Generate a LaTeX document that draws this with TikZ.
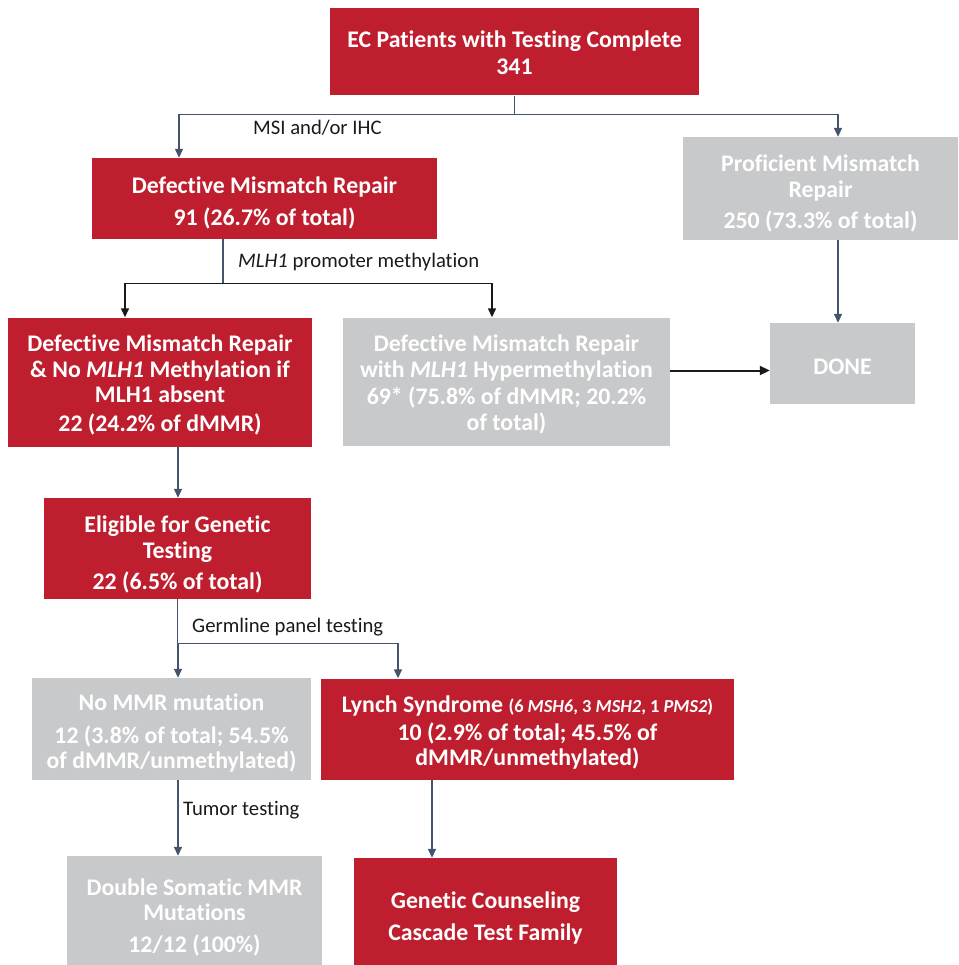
\documentclass[tikz,border=0pt]{standalone}
\usepackage{fontspec}
\setmainfont{Carlito}[Ligatures=NoCommon]
\usetikzlibrary{arrows.meta,calc}
\definecolor{dred}{HTML}{BE1E2D}
\definecolor{lgray}{HTML}{C8C9CB}
\definecolor{slate}{HTML}{44546A}
\definecolor{blk}{HTML}{1A1A1A}
\tikzset{
  box/.style={rectangle, inner sep=0pt},
  redbox/.style={box, fill=dred},
  graybox/.style={box, fill=lgray},
  boxtext/.style={inner sep=0pt, align=center, text=white,
    font=\bfseries\fontsize{23.8}{25.5}\selectfont},
  arr/.style={draw=slate, line width=1.4pt, -{Triangle[width=8pt,length=9pt]}},
  ln/.style={draw=slate, line width=1.4pt},
  arrk/.style={draw=blk, line width=1.4pt, -{Triangle[width=8pt,length=9pt]}},
  arrkk/.style={draw=blk, line width=2pt, -{Triangle[width=9pt,length=10pt]}},
  lab/.style={anchor=west, inner sep=0pt, text=blk, font=\fontsize{20.7}{24}\selectfont}
}
% #1 style, #2 width, #3 height, #4 name, #5 centre, #6 text drop, #7 text
\newcommand\flowbox[7]{%
  \node[#1, minimum width=#2pt, minimum height=#3pt] (#4) at (#5) {};
  \node[boxtext] (#4-t) at ([yshift=-#6pt]#4.center) {#7};}
\begin{document}
\begin{tikzpicture}[x=1pt,y=-1pt]
\useasboundingbox (0,0) rectangle (958,965);
% boxes
\flowbox{redbox}{369}{87}{top}{514.5,52}{0.5}
  {EC Patients with Testing Complete\\[1pt]341}
\flowbox{redbox}{345}{81}{dmmr}{264.5,198.5}{4.5}
  {Defective Mismatch Repair\\[6pt]91 (26.7\% of total)}
\flowbox{graybox}{275}{103}{prof}{820.5,188.5}{5}
  {Proficient Mismatch\\Repair\\[6pt]250 (73.3\% of total)}
\flowbox{redbox}{304}{129}{nomlh}{160,382}{3}
  {Defective Mismatch Repair\\\& No \textit{MLH1} Methylation if\\MLH1 absent\\[3pt]22 (24.2\% of dMMR)}
\flowbox{graybox}{327}{128}{hyper}{506.5,381.5}{3}
  {Defective Mismatch Repair\\with \textit{MLH1} Hypermethylation\\[2pt]69* (75.8\% of dMMR; 20.2\%\\of total)}
\flowbox{graybox}{145}{81}{done}{842.5,363.5}{3.5}{DONE}
\flowbox{redbox}{267}{101}{elig}{177.5,548.5}{6}
  {Eligible for Genetic\\Testing\\[6pt]22 (6.5\% of total)}
\flowbox{graybox}{279}{102}{nommr}{171.5,729}{4.5}
  {No MMR mutation\\[7pt]12 (3.8\% of total; 54.5\%\\of dMMR/unmethylated)}
\flowbox{redbox}{413}{101}{lynch}{527.5,729}{4}
  {Lynch Syndrome {\fontsize{18.4}{20}\selectfont(6 \textit{MSH6}, 3 \textit{MSH2}, 1 \textit{PMS2})}\\[2pt]10 (2.9\% of total; 45.5\% of\\dMMR/unmethylated)}
\flowbox{graybox}{255}{116}{dsom}{194.5,914}{3}
  {Double Somatic MMR\\Mutations\\[6pt]12/12 (100\%)}
\flowbox{redbox}{263}{116}{gc}{485.5,916}{2}
  {Genetic Counseling\\[6pt]Cascade Test Family}
% connectors
\draw[ln] (top.south) -- ++(0,19) coordinate (j1);
\draw[arr] (j1) -| ([xshift=-85.5pt]dmmr.north);
\draw[arr] (j1) -| ([xshift=17.5pt]prof.north);
\draw[ln] ([xshift=-41.5pt]dmmr.south) -- ++(0,44) coordinate (j2);
\draw[arrk] (j2) -| ([xshift=-35pt]nomlh.north);
\draw[arrk] (j2) -| ([xshift=-14.5pt]hyper.north);
\draw[arr] ([xshift=17.5pt]prof.south) -- ([xshift=17.5pt]prof.south |- done.north);
\draw[arrkk] ([yshift=11pt]hyper.east) -- ([yshift=11pt]hyper.east -| done.west);
\draw[arr] ([xshift=18pt]nomlh.south) -- ([xshift=18pt]nomlh.south |- elig.north);
\draw[ln] (elig.south) -- ++(0,44) coordinate (j3);
\draw[arr] (j3) -| ([xshift=6.5pt]nommr.north);
\draw[arr] (j3) -| ([xshift=-129.5pt]lynch.north);
\draw[arr] ([xshift=6.5pt]nommr.south) -- ([xshift=6.5pt]nommr.south |- dsom.north);
\draw[arr] ([xshift=-95.5pt]lynch.south) -- ([xshift=-95.5pt]lynch.south |- gc.north);
% labels
\node[lab] (l1) at (253,128) {MSI and/or IHC};
\node[lab] (l2) at (238,262) {\textit{MLH1} promoter methylation};
\node[lab] (l3) at (192,627) {Germline panel testing};
\node[lab] (l4) at (183,810) {Tumor testing};
\end{tikzpicture}
\end{document}
